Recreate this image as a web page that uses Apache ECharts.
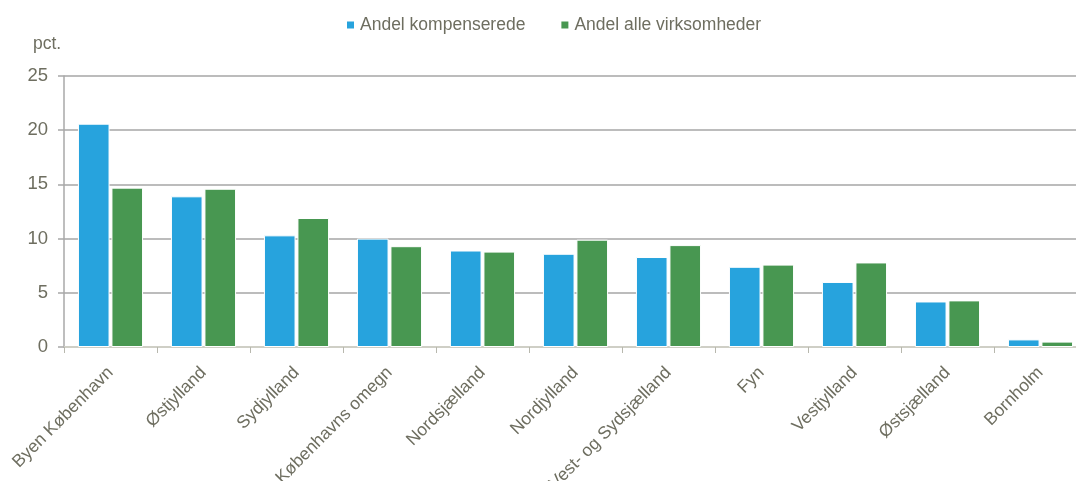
<!DOCTYPE html>
<html>
<head>
<meta charset="utf-8">
<script src="https://cdn.jsdelivr.net/npm/echarts@6/dist/echarts.min.js"></script>
<style>
html,body{margin:0;padding:0;background:#fff;}
#c{width:1076px;height:481px;}
</style>
</head>
<body>
<div id="c"></div>
<script>
const categories = ["Byen København","Østjylland","Sydjylland","Københavns omegn","Nordsjælland","Nordjylland","Vest- og Sydsjælland","Fyn","Vestjylland","Østsjælland","Bornholm"];
const seriesNames = ["Andel kompenserede","Andel alle virksomheder"];
const kompenserede = [20.6,13.9,10.3,10.0,8.9,8.6,8.3,7.4,6.0,4.2,0.7];
const alleVirksomheder = [14.7,14.6,11.9,9.3,8.8,9.9,9.4,7.6,7.8,4.3,0.5];
const yTicks = {min:0,max:25,interval:5};
const yUnit = "pct.";

const txt = '#6e6e60';
const font = "'Liberation Sans',Arial,sans-serif";
const fs = 17.5;
const chart = echarts.init(document.getElementById('c'), null, {renderer:'canvas'});
chart.setOption({
  animation:false,
  backgroundColor:'#fff',
  textStyle:{fontFamily:font},
  legend:{
    top:11, left:340, itemWidth:9, itemHeight:9, itemGap:34,
    icon:'rect',
    textStyle:{color:txt,fontSize:fs,fontFamily:font},
    data:seriesNames
  },
  graphic:[{type:'text',left:33,top:35,style:{text:yUnit,fill:txt,font:fs+"px "+font}}],
  grid:{left:64,top:76,right:-11,bottom:134,containLabel:false,outerBoundsMode:'none'},
  xAxis:{
    type:'category',data:categories,boundaryGap:true,
    axisLine:{lineStyle:{color:'#cfcfc6',width:2}},
    axisTick:{show:true,interval:0,length:6,lineStyle:{color:'#b8b8ae',width:1}},
    axisLabel:{interval:0,rotate:45,margin:23,color:txt,fontSize:fs,fontFamily:font}
  },
  yAxis:{
    type:'value',min:yTicks.min,max:yTicks.max,interval:yTicks.interval,
    axisLine:{show:true,lineStyle:{color:'#a8a8a8',width:1.5}},
    axisTick:{show:true,length:6,lineStyle:{color:'#a8a8a8',width:1.5}},
    axisLabel:{margin:16,color:txt,fontSize:fs+1,fontFamily:font},
    splitLine:{show:true,lineStyle:{color:'#a6a6a6',width:1.5}}
  },
  series:[
    {name:seriesNames[0],type:'bar',data:kompenserede,barGap:'6%',barCategoryGap:'30%',
     itemStyle:{color:'#27a3dd',borderColor:'#ffffff',borderWidth:1}},
    {name:seriesNames[1],type:'bar',data:alleVirksomheder,
     itemStyle:{color:'#489751',borderColor:'#ffffff',borderWidth:1}}
  ]
});
</script>
</body>
</html>
